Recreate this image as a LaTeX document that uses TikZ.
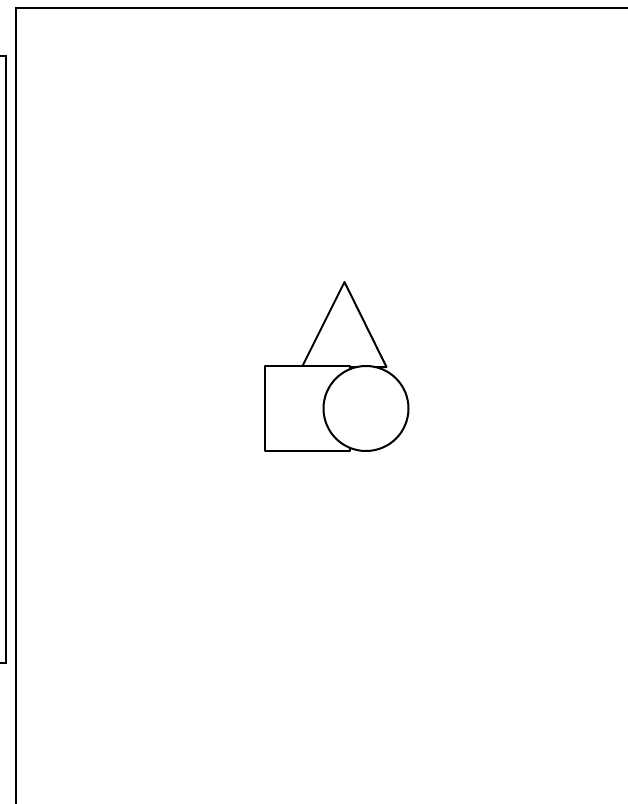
\documentclass[tikz,border=0pt]{standalone}
\begin{document}
\begin{tikzpicture}[x=1pt,y=-1pt,
  shape line/.style={draw=black, line width=2pt, line join=round},
  frame line/.style={draw=black, line width=2pt}]
\useasboundingbox (0,0) rectangle (628,804);
\clip (0,0) rectangle (628,804);
% frames
\draw[frame line] (-10,55.5) -- (5.5,55.5) -- (5.5,663) -- (-10,663);
\draw[frame line] (16,820) -- (16,8) -- (640,8);
% shapes
\coordinate (apex) at (344.5,282);
\coordinate (bl) at (302,367);
\coordinate (br) at (386.5,367);
\draw[shape line] (bl) -- (apex) -- (br) -- cycle;
\path[shape line, fill=white] (265,366) rectangle (350,451);
\path[shape line, fill=white] (366,408.5) circle (42.5);
\end{tikzpicture}
\end{document}
